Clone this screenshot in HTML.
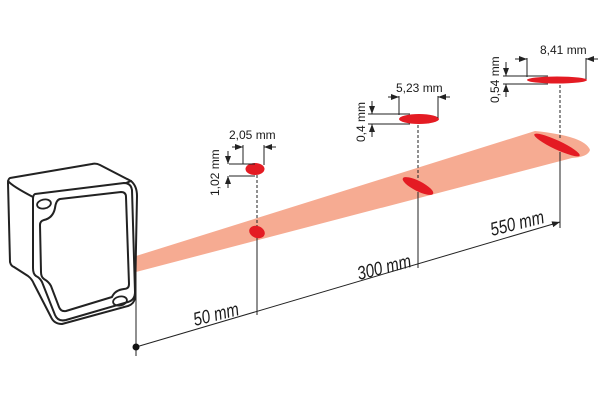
<!DOCTYPE html>
<html><head><meta charset="utf-8"><style>
html,body{margin:0;padding:0;background:#fff;width:600px;height:400px;overflow:hidden}
svg text{font-family:"Liberation Sans",sans-serif;fill:#1a1a1a}
</style></head><body>
<svg width="600" height="400" viewBox="0 0 600 400" xmlns="http://www.w3.org/2000/svg">
<defs><marker id="a" markerWidth="8" markerHeight="6" refX="8" refY="3" orient="auto" markerUnits="userSpaceOnUse"><path d="M0,0 L8,3 L0,6z" fill="#222"/></marker></defs>
<!-- beam -->
<path d="M136,256 L535,131 Q585,136 590,150 Q588,157 572,158 L136,272 Z" fill="#f6ab92"/>
<!-- sensor -->
<g fill="#fff" stroke="#222" stroke-width="2" stroke-linejoin="round" stroke-linecap="round">
<path d="M10,178 Q8,179 8,183 L10,262 Q11,266 14,267 L28,276 Q32,279 34,284 L51,317 Q54,324 62,324 L128,306 Q134,304 135,298 L137,196 Q137,186 131,181 L100,165 Q96,163 92,164 Z"/>
<path d="M35,194 L124,183 Q131,183 132,190 L135,292 Q135,300 128,302 L66,320 Q58,322 55,315 L42,282 Q40,278 36,276 Q33,274 33,268 L33,199 Q33,195 35,194 Z"/>
<path d="M60,199 L121,192 Q126,192 126,197 L129,284 Q129,289 124,289 Q115,290 112,297 L66,311 Q61,312 59,307 L51,286 Q49,282 44,279 Q41,277 41,272 L40,225 Q40,221 44,220 Q53,218 55,208 Q56,200 60,199 Z"/>
<path d="M8,181 Q12,186 33,197" fill="none"/>
<path d="M131,181 L126,183" fill="none"/>
</g>
<g fill="none" stroke="#222" stroke-width="1.8">
<ellipse cx="44" cy="204" rx="7" ry="4.5" transform="rotate(-12 44 204)"/>
<ellipse cx="120" cy="301" rx="7" ry="4.5" transform="rotate(-12 120 301)"/>
</g>
<!-- spots on beam -->
<g fill="#e41b23">
<ellipse cx="257" cy="232" rx="8" ry="6" transform="rotate(20 257 232)"/>
<ellipse cx="418" cy="186" rx="17" ry="5" transform="rotate(27 418 186)"/>
<ellipse cx="557" cy="145" rx="25" ry="4.5" transform="rotate(25 557 145)"/>
<ellipse cx="255" cy="169" rx="9.5" ry="6"/>
<ellipse cx="419" cy="119" rx="20" ry="5"/>
<ellipse cx="557" cy="80" rx="30" ry="3.5"/>
</g>
<!-- vertical lines -->
<g stroke="#222" stroke-width="1" fill="none">
<line x1="136" y1="258" x2="136" y2="356"/>
<line x1="257" y1="175" x2="257" y2="226" stroke-dasharray="3,2"/>
<line x1="257" y1="238" x2="257" y2="315"/>
<line x1="418" y1="125" x2="418" y2="180" stroke-dasharray="3,2"/>
<line x1="418" y1="192" x2="418" y2="268"/>
<line x1="560" y1="85" x2="560" y2="138" stroke-dasharray="3,2"/>
<line x1="560" y1="152" x2="560" y2="228"/>
<line x1="136" y1="347" x2="560" y2="222" marker-end="url(#a)"/>
<!-- 2,05 dims -->
<line x1="229" y1="164" x2="255" y2="164"/><line x1="229" y1="176" x2="255" y2="176"/>
<line x1="243" y1="145" x2="243" y2="164"/><line x1="264" y1="145" x2="264" y2="165"/>
<line x1="232" y1="147" x2="243" y2="147" marker-end="url(#a)"/><line x1="276" y1="147" x2="264" y2="147" marker-end="url(#a)"/>
<line x1="228" y1="151" x2="228" y2="164" marker-end="url(#a)"/><line x1="228" y1="188" x2="228" y2="176" marker-end="url(#a)"/>
<!-- 5,23 dims -->
<line x1="368" y1="114" x2="410" y2="114"/><line x1="368" y1="124" x2="410" y2="124"/>
<line x1="399" y1="96" x2="399" y2="115"/><line x1="438" y1="96" x2="438" y2="118"/>
<line x1="388" y1="97" x2="399" y2="97" marker-end="url(#a)"/><line x1="450" y1="97" x2="438" y2="97" marker-end="url(#a)"/>
<line x1="372" y1="101" x2="372" y2="114" marker-end="url(#a)"/><line x1="372" y1="137" x2="372" y2="124" marker-end="url(#a)"/>
<!-- 8,41 dims -->
<line x1="503" y1="76" x2="548" y2="76"/><line x1="503" y1="84" x2="548" y2="84"/>
<line x1="527" y1="58" x2="527" y2="77"/><line x1="586" y1="58" x2="586" y2="79"/>
<line x1="515" y1="59" x2="527" y2="59" marker-end="url(#a)"/><line x1="598" y1="59" x2="586" y2="59" marker-end="url(#a)"/>
<line x1="506" y1="62" x2="506" y2="76" marker-end="url(#a)"/><line x1="506" y1="97" x2="506" y2="84" marker-end="url(#a)"/>
</g>
<circle cx="136" cy="347" r="3.5" fill="#111"/>
<!-- labels -->
<g font-size="12">
<text x="229" y="139">2,05 mm</text>
<text x="396" y="92">5,23 mm</text>
<text x="540" y="54">8,41 mm</text>
<text transform="translate(219,196) rotate(-90)">1,02 mm</text>
<text transform="translate(365,142) rotate(-90)">0,4 mm</text>
<text transform="translate(499,103) rotate(-90)">0,54 mm</text>
</g>
<g font-size="19" font-style="italic">
<text transform="translate(195,326) rotate(-14) scale(0.8,1)">50 mm</text>
<text transform="translate(359,280) rotate(-14) scale(0.8,1)">300 mm</text>
<text transform="translate(492,236) rotate(-14) scale(0.8,1)">550 mm</text>
</g>
</svg>
</body></html>
